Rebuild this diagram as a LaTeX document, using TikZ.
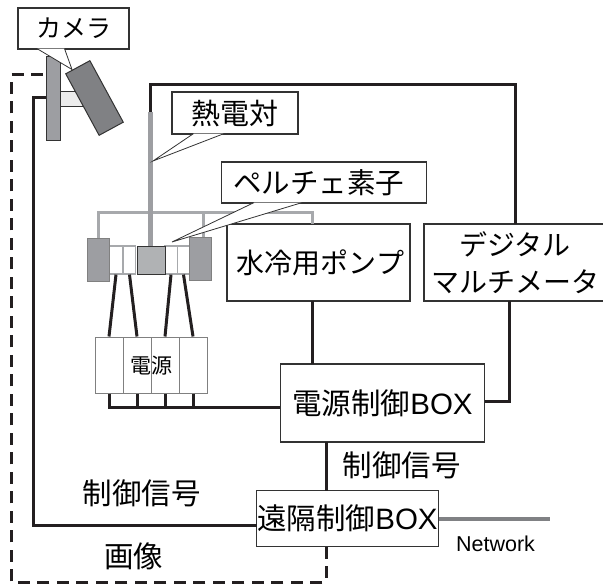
\documentclass[tikz,border=0pt]{standalone}
\usepackage{fontspec}
\setmainfont{Liberation Sans}
\newfontfamily\jpfont{Noto Sans CJK JP}
\usepackage{tikz}
\definecolor{edgegray}{HTML}{333333}
\definecolor{wiregray}{HTML}{A7A9AC}
\definecolor{standgray}{HTML}{9D9EA2}
\definecolor{cameragray}{HTML}{808184}
\definecolor{wireblack}{HTML}{231F20}
\tikzset{
  labelbox/.style={draw=edgegray, line width=1.1pt, fill=white, inner sep=0pt, align=center, font=\fontsize{28}{37}\selectfont\jpfont},
  tail/.style={draw=edgegray, line width=0.8pt, fill=white},
  wire/.style={draw=wireblack, line width=3pt},
  dashwire/.style={draw=wireblack, line width=3pt, dash pattern=on 12pt off 7.5pt},
  pipe/.style={draw=wiregray, line width=3pt},
  cell/.style={draw=wiregray, line width=1.2pt, fill=white},
  freetext/.style={font=\fontsize{29.5}{34}\selectfont\jpfont, inner sep=0pt},
}
\begin{document}
\begin{tikzpicture}[x=1pt,y=-1pt]
\useasboundingbox (0,0) rectangle (603,586);
% boxes
\node [labelbox, minimum width=183pt, minimum height=77pt] (pump) at (318.5,262.5) {\hspace*{4pt}水冷用ポンプ};
\node [labelbox, minimum width=182pt, minimum height=77pt] (meter) at (515,262.5) {デジタル\\マルチメータ};
\node [labelbox, font=\fontsize{29.5}{37}\selectfont\jpfont, minimum width=204pt, minimum height=78pt] (powerbox) at (382.5,403) {電源制御{\rmfamily BOX}};
\node [labelbox, font=\fontsize{29.5}{37}\selectfont\jpfont, minimum width=181.5pt, minimum height=56pt] (remotebox) at (347.5,518.6) {遠隔制御{\rmfamily BOX}};
% joints on the boxes
\coordinate (pumpfoot) at (312,301);
\coordinate (pumptop) at (312,224);
\coordinate (powerpump) at (312,364);
\coordinate (meterfoot) at (509,301);
\coordinate (metertop) at (515,224);
\coordinate (powerright) at (484.5,401);
\coordinate (powerfoot) at (326,442);
\coordinate (remotetop) at (326,490.6);
\coordinate (remotefoot) at (326,546.6);
\coordinate (remoteleft) at (256.7,525.6);
\coordinate (netend) at (550,518.7);
% camera
\draw [draw=edgegray, line width=0.8pt, fill=gray!15] (60,91) rectangle (84,106);
\node [draw=edgegray, line width=1pt, fill=standgray, inner sep=0pt, minimum width=14.5pt, minimum height=83pt] (stand) at (53.5,98.5) {};
\node [draw=edgegray, line width=1pt, fill=cameragray, inner sep=0pt, minimum width=27.5pt, minimum height=70pt, rotate=28.5] (camera) at (94.5,98) {};
% peltier stack
\draw [pipe] (98,238) -- (98,212) -- (312,212) -- (pumptop);
\draw [pipe] (203,212) -- (203,238);
\draw [draw=standgray, line width=5pt] (150,112) -- (150,246) coordinate (probefoot);
\draw [wire] (metertop) -- (515,84.6) -- (150,84.6) -- (150,112);
\foreach \name/\cx in {cella/116, cellb/129.5, cellc/171, celld/183.5}
  \node [cell, inner sep=0pt, minimum width=12.5pt, minimum height=28pt] (\name) at (\cx,260) {};
\node [draw=edgegray, line width=1pt, fill=wiregray!90, inner sep=0pt, minimum width=28pt, minimum height=28pt] (core) at (151,260) {};
\node [draw=gray, line width=1pt, fill=standgray, inner sep=0pt, minimum width=22pt, minimum height=43pt] (sinkleft) at (98,259.5) {};
\node [draw=gray, line width=1pt, fill=standgray, inner sep=0pt, minimum width=22pt, minimum height=43pt] (sinkright) at (200,258.5) {};
% power supply
\foreach \name/\cx/\cw in {supa/109/28, supb/137/28, supc/165/28, supd/193/28}
  \node [draw=gray, line width=1pt, fill=white, inner sep=0pt, minimum width=\cw pt, minimum height=56pt] (\name) at (\cx,365) {};
\node [font=\fontsize{21}{24}\selectfont\jpfont, inner sep=0pt] (supply) at (151,366) {電源};
\draw [wire] (cella.south) -- (supa.north);
\draw [wire] (cellb.south) -- (supb.north);
\draw [wire] (cellc.south) -- (supc.north);
\draw [wire] (celld.south) -- (supd.north);
\draw [wire] (supa.south) -- (109,407) -- (powerbox.west |- 0,407);
\draw [wire] (supb.south) -- (137,407);
\draw [wire] (supc.south) -- (165,407);
\draw [wire] (supd.south) -- (193,407);
% signal lines
\draw [wire] (pumpfoot) -- (powerpump);
\draw [wire] (meterfoot) -- (509,401) -- (powerright);
\draw [wire] (powerfoot) -- (remotetop);
\draw [wire] (remoteleft) -- (33,525.6) -- (33,98) -- (stand.west |- 0,98);
\draw [dashwire] (remotefoot) -- (326,582) -- (11,582) -- (11,75) -- (stand.west |- 0,75);
\draw [draw=cameragray, line width=3.6pt] (remotebox.east |- netend) -- (netend);
% callouts
\node [labelbox, font=\fontsize{25}{32}\selectfont\jpfont, minimum width=111pt, minimum height=41pt] (cameralabel) at (73.5,28.5) {カメラ};
\draw [tail] (37,48.6) -- (72,69.5) -- (64.5,48.6);
\node [labelbox, font=\fontsize{29}{32}\selectfont\jpfont, minimum width=126pt, minimum height=42pt] (probelabel) at (235,113) {熱電対};
\draw [tail] (193.5,133.6) -- (153,161) -- (224,133.6);
\node [labelbox, font=\fontsize{28.5}{32}\selectfont\jpfont, minimum width=205pt, minimum height=41pt] (peltierlabel) at (324,182.5) {ペルチェ素子\hspace*{11pt}};
\draw [tail] (254,202.6) -- (172,242) -- (302,202.6);
% texts
\node [freetext] (signalright) at (401.5,465) {制御信号};
\node [freetext] (signalleft) at (141.5,493) {制御信号};
\node [freetext] (imagetext) at (133.5,556) {画像};
\node [font=\fontsize{21.5}{24}\selectfont, inner sep=0pt] (nettext) at (495.5,544) {Network};
\end{tikzpicture}
\end{document}
